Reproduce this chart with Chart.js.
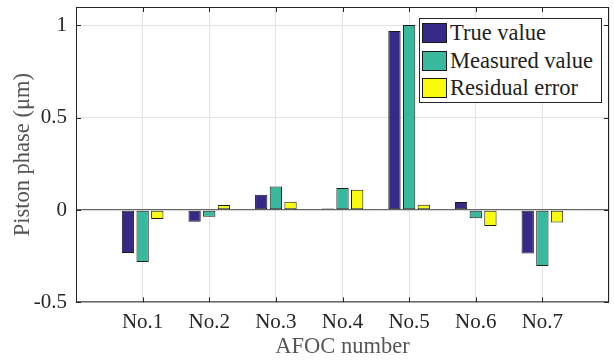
<!DOCTYPE html>
<html>
<head>
<meta charset="utf-8">
<script src="https://cdn.jsdelivr.net/npm/chart.js@4"></script>
<style>
  body { margin: 0; background: #fff; }
  #wrap { position: relative; width: 614px; height: 361px; }
  #legend {
    position: absolute; left: 419px; top: 18px; width: 181px; height: 83px;
    border: 1px solid #262626; background: #fff;
    font-family: 'Liberation Serif', serif; font-size: 22.5px; color: #231f20;
  }
  .row { position: absolute; left: 2px; height: 22px; display: flex; align-items: center; }
  .sw { width: 25px; height: 20px; border: 1px solid #1a1a1a; margin-right: 3px; box-sizing: border-box; }
</style>
</head>
<body>
<div id="wrap">
  <canvas id="chart" width="614" height="361"></canvas>
  <div id="legend"></div>
</div>
<script>
// Piston phase per AFOC
const categories = ['No.1', 'No.2', 'No.3', 'No.4', 'No.5', 'No.6', 'No.7'];
const trueValue = [-0.233, -0.063, 0.083, 0.008, 0.970, 0.043, -0.235];
const measuredValue = [-0.282, -0.036, 0.127, 0.119, 1.002, -0.045, -0.303];
const residualError = [-0.049, 0.027, 0.045, 0.110, 0.029, -0.087, -0.068];
const yTicks = [-0.5, 0, 0.5, 1];

const seriesNames = ['True value', 'Measured value', 'Residual error'];
const colors = ['#352a87', '#38b89d', '#f9fb0e'];
const serif = "'Liberation Serif', serif";

// empty slots at both ends so the axis runs from 0 to 8 like the original
const labels = [''].concat(categories, ['']);
const pad = arr => [null].concat(arr, [null]);

// box around the plot + inward tick marks
const frame = {
    id: 'frame',
    afterDraw(chart) {
        const {ctx, chartArea: a, scales} = chart;
        ctx.save();
        ctx.strokeStyle = '#262626';
        ctx.lineWidth = 1;
        ctx.strokeRect(a.left + 0.5, a.top + 0.5, a.right - a.left - 1, a.bottom - a.top - 1);
        ctx.beginPath();
        categories.forEach((c, i) => {
            const x = Math.round(scales.x.getPixelForValue(i + 1)) + 0.5;
            ctx.moveTo(x, a.bottom); ctx.lineTo(x, a.bottom - 5);
            ctx.moveTo(x, a.top); ctx.lineTo(x, a.top + 5);
        });
        yTicks.forEach(v => {
            const y = Math.round(scales.y.getPixelForValue(v)) + 0.5;
            ctx.moveTo(a.left, y); ctx.lineTo(a.left + 5, y);
            ctx.moveTo(a.right, y); ctx.lineTo(a.right - 5, y);
        });
        ctx.stroke();
        ctx.restore();
    }
};

const ctx = document.getElementById('chart').getContext('2d');
const chart = new Chart(ctx, {
    type: 'bar',
    data: {
        labels: labels,
        datasets: [trueValue, measuredValue, residualError].map((d, i) => ({
            label: seriesNames[i],
            data: pad(d),
            backgroundColor: colors[i],
            borderColor: '#1a1a1a',
            borderWidth: 1,
            borderSkipped: false,
            categoryPercentage: 0.66,
            barPercentage: 0.84
        }))
    },
    options: {
        responsive: false,
        animation: false,
        layout: { padding: { left: 0, right: 5, top: 7, bottom: 0 } },
        plugins: { legend: { display: false }, tooltip: { enabled: false } },
        scales: {
            x: {
                offset: false,
                grid: { color: '#e3e3e3', drawTicks: false, offset: false },
                border: { display: false },
                ticks: { color: '#262626', font: { family: serif, size: 21 }, padding: 8, maxRotation: 0, autoSkip: false },
                title: { display: true, text: 'AFOC number', color: '#555', font: { family: serif, size: 22.5 }, padding: { top: 0, bottom: 0 } },
                afterFit: s => { s.height = 58.7; s.paddingLeft = 0; s.paddingRight = 0; }
            },
            y: {
                min: -0.5,
                max: 1.1,
                afterBuildTicks: s => { s.ticks = yTicks.map(v => ({ value: v })); },
                grid: {
                    drawTicks: false,
                    color: c => c.tick && c.tick.value === 0 ? '#666' : '#e3e3e3',
                    lineWidth: c => c.tick && c.tick.value === 0 ? 1.3 : 1
                },
                border: { display: false },
                ticks: { color: '#262626', font: { family: serif, size: 21 }, padding: 9, callback: v => String(v) },
                title: { display: true, text: 'Piston phase (μm)', color: '#555', font: { family: serif, size: 22.5 }, padding: { top: 9.5, bottom: 0 } },
                afterFit: s => { s.width = 76; s.paddingTop = 0; s.paddingBottom = 0; }
            }
        }
    },
    plugins: [frame]
});

// legend inside the plot
const legend = document.getElementById('legend');
seriesNames.forEach((name, i) => {
    const row = document.createElement('div');
    row.className = 'row';
    row.style.top = (3 + i * 27.7) + 'px';
    row.innerHTML = '<div class="sw" style="background:' + colors[i] + '"></div><span>' + name + '</span>';
    legend.appendChild(row);
});
</script>
</body>
</html>
